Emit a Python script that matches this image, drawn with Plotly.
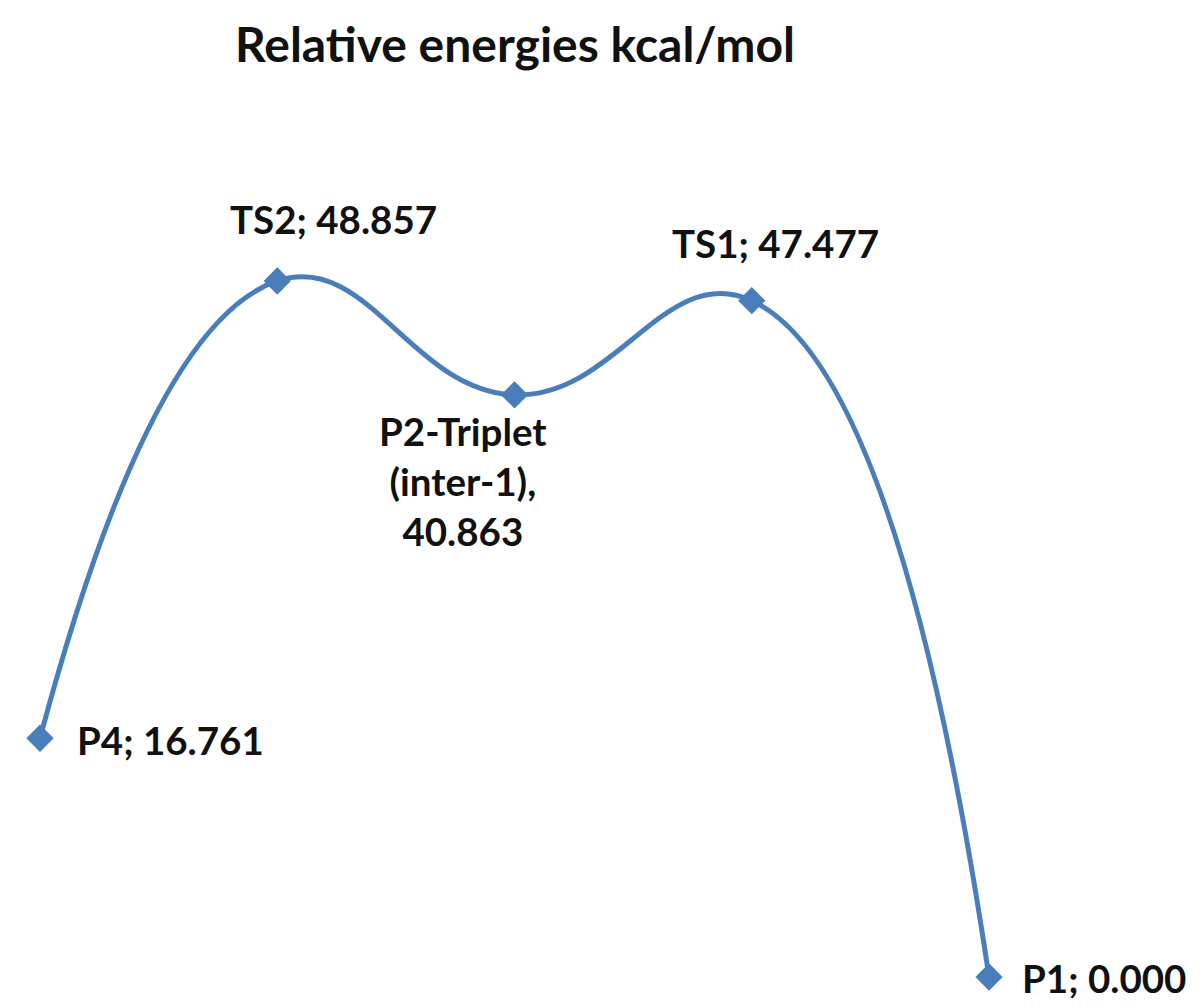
import plotly.graph_objects as go

# reaction path, left to right as drawn
species = ["P4", "TS2", "P2-Triplet (inter-1)", "TS1", "P1"]
energies = [16.761, 48.857, 40.863, 47.477, 0.000]
label_text = ["P4; 16.761", "TS2; 48.857", "P2-Triplet<br>(inter-1),<br>40.863",
              "TS1; 47.477", "P1; 0.000"]

positions = list(range(len(species)))
blue = "#4A7EBB"
font = "Lato"

fig = go.Figure()
fig.add_trace(go.Scatter(
    x=positions, y=energies,
    mode="lines+markers",
    line=dict(color=blue, width=5, shape="spline", smoothing=1.3),
    marker=dict(symbol="diamond", size=21, color=blue),
    hovertext=species,
    showlegend=False,
))

# label placement relative to each point (pixels)
offsets = [
    dict(xanchor="left", yanchor="middle", xshift=35, yshift=-2),
    dict(xanchor="center", yanchor="middle", xshift=56, yshift=62),
    dict(xanchor="center", yanchor="top", xshift=-52, yshift=-11),
    dict(xanchor="center", yanchor="middle", xshift=24, yshift=58),
    dict(xanchor="left", yanchor="middle", xshift=31, yshift=-1),
]
for xi, yi, txt, off in zip(positions, energies, label_text, offsets):
    fig.add_annotation(x=xi, y=yi, text=txt, showarrow=False, align="center",
                       font=dict(family=font, size=38.5, color="#111111", weight="bold"),
                       **off)

fig.update_layout(
    width=1200, height=1007,
    paper_bgcolor="white", plot_bgcolor="white",
    margin=dict(l=0, r=0, t=0, b=0),
    title=dict(text="Relative energies kcal/mol", x=0.4225, xanchor="center",
               y=0.963, yanchor="middle",
               font=dict(family=font, size=48, color="#111111", weight="bold")),
    xaxis=dict(range=[-0.1349, 4.923], visible=False),
    yaxis=dict(range=[-2.667, 68.02], visible=False),
)

fig.write_html("out.html")
